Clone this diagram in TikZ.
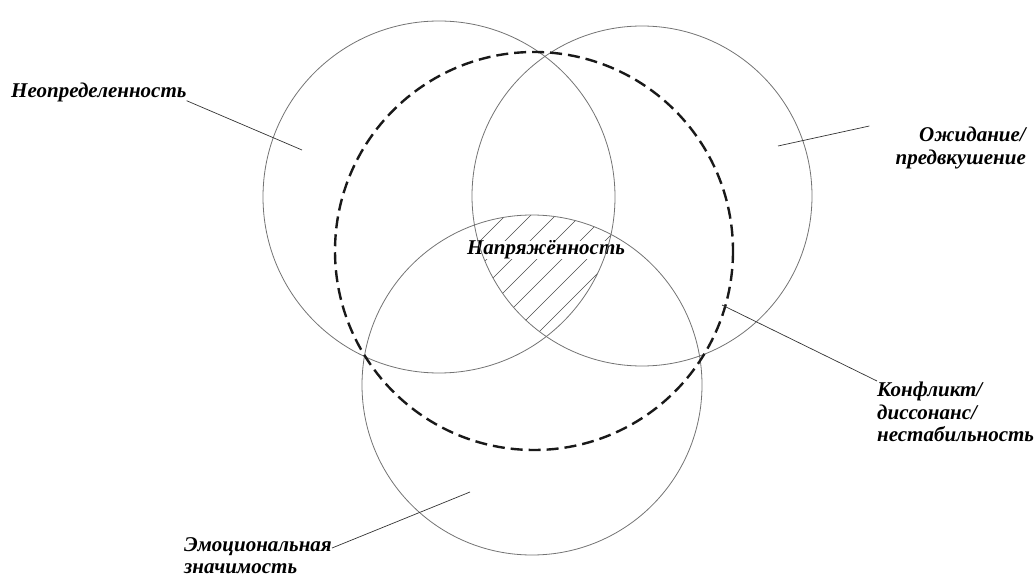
\documentclass[tikz,border=0pt]{standalone}
\usepackage{fontspec}
\setmainfont{Liberation Serif}
\usetikzlibrary{positioning}
\begin{document}
\begin{tikzpicture}[x=1pt,y=-1pt]
  \tikzset{
    ring/.style={draw=black!55, line width=0.8pt},
    dashring/.style={draw=black!90, line width=2.4pt, dash pattern=on 12pt off 6pt},
    lead/.style={draw=black!80, line width=0.7pt},
    hatch/.style={draw=black!70, line width=0.6pt},
    tag/.style={font=\fontsize{21}{22.5}\selectfont\bfseries\itshape, inner sep=0pt, align=left},
  }
  \useasboundingbox (0,0) rectangle (1035,577);
  \coordinate (ca) at (439,197);
  \coordinate (cb) at (642,196);
  \coordinate (cc) at (532,385);
  \coordinate (cd) at (534,251);

  % hatching of the common part
  \begin{scope}
    \clip (ca) circle (176);
    \clip (cb) circle (170);
    \clip (cc) circle (170);
    \foreach \k in {-350,-325,...,350}
      \draw[hatch] (546+\k-200,450) -- (546+\k+200,50);
  \end{scope}

  \node[tag, fill=white] (t0) at (546,250) {Напряжённость};

  \draw[ring] (ca) circle (176);
  \draw[ring] (cb) circle (170);
  \draw[ring] (cc) circle (170);
  \draw[dashring] (cd) circle (199);

  % labels
  \node[tag, anchor=west] (t1) at (11,92) {Неопределенность};
  \node[tag, anchor=north east, align=right] (t2) at (1026,127) {Ожидание/\\предвкушение};
  \node[tag, anchor=north west] (t3) at (877,382) {Конфликт/\\диссонанс/\\нестабильность};
  \node[tag, anchor=north west] (t4) at (184,537) {Эмоциональная\\значимость};

  \coordinate (p1) at (302,150);
  \coordinate (p2) at (778,146);
  \coordinate (p3) at (722,305);
  \coordinate (p4) at (470,492);

  \draw[lead] ([yshift=1pt]t1.south east) -- (p1);
  \draw[lead] ([xshift=-26pt,yshift=1pt]t2.north west) -- (p2);
  \draw[lead] ([yshift=1pt]t3.north west) -- (p3);
  \draw[lead] ([yshift=-11pt]t4.north east) -- (p4);
\end{tikzpicture}
\end{document}
